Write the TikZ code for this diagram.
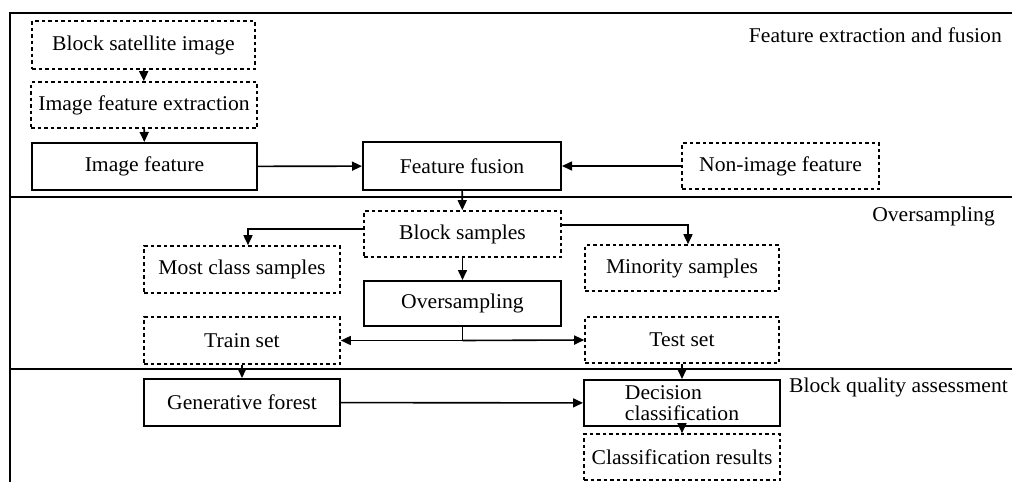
\documentclass[tikz,border=0pt]{standalone}
\usepackage{fontspec}
\setmainfont{Liberation Serif}[FakeStretch=1.03]
\usetikzlibrary{arrows.meta}
\begin{document}
\begin{tikzpicture}[x=1pt,y=-1pt,
  base/.style={rectangle, inner sep=0pt, font=\fontsize{21}{21}\selectfont, align=center},
  dbox/.style={base, draw, line width=1.6pt, dash pattern=on 3.5pt off 3pt},
  sbox/.style={base, draw, line width=2pt},
  arr/.style={line width=1.6pt, -{Triangle[length=10pt,width=9pt]}},
  ln/.style={line width=1.6pt},
  frame/.style={line width=1.8pt},
  lbl/.style={inner sep=0pt, font=\fontsize{21}{21}\selectfont, anchor=east}]
\useasboundingbox (0,0) rectangle (1012,482);
% frame
\draw[frame] (1012,13) -- (10,13) -- (10,482);
\draw[frame] (10,197) -- (1012,197);
\draw[frame] (10,369) -- (1012,369);
% section labels
\node[lbl] (l1) at (1002,35) {Feature extraction and fusion};
\node[lbl] (l2) at (995,216) {Oversampling};
\node[lbl] (l3) at (1008,387) {Block quality assessment};
% nodes
\node[dbox, minimum width=223pt, minimum height=48pt] (sat) at (143.5,45) {Block satellite image};
\node[dbox, minimum width=226pt, minimum height=46pt] (ext) at (144,105) {Image feature extraction};
\node[sbox, minimum width=225pt, minimum height=47pt] (imf) at (144.5,166.5) {Image feature};
\node[sbox, minimum width=198pt, minimum height=48pt] (fus) at (462,166) {Feature fusion};
\node[dbox, minimum width=197pt, minimum height=46pt] (non) at (780.5,166) {Non-image feature};
\node[dbox, minimum width=197pt, minimum height=46pt] (blk) at (462.5,234) {Block samples};
\node[dbox, minimum width=196pt, minimum height=47pt] (most) at (242,269.5) {Most class samples};
\node[dbox, minimum width=194pt, minimum height=46pt] (mino) at (682,268) {Minority samples};
\node[sbox, minimum width=197pt, minimum height=45pt] (ovs) at (462.5,303.5) {Oversampling};
\node[dbox, minimum width=196pt, minimum height=47pt] (train) at (242,340.5) {Train set};
\node[dbox, minimum width=194pt, minimum height=46pt] (test) at (682,340) {Test set};
\node[sbox, minimum width=196pt, minimum height=47pt] (gen) at (242,402.5) {Generative forest};
\node[sbox, minimum width=196pt, minimum height=46pt, align=left] (dec) at (682,403) {Decision\\classification};
\node[dbox, minimum width=196pt, minimum height=46pt] (res) at (682,457) {Classification results};
% connectors
\draw[arr] (sat) -- (ext);
\draw[arr] (ext) -- (imf);
\draw[arr] (imf) -- (fus);
\draw[arr] (non) -- (fus);
\draw[arr] (fus) -- (blk);
\draw[arr] ([yshift=5pt]blk.west) -| ([xshift=6pt]most.north);
\draw[arr] ([yshift=9pt]blk.east) -| ([xshift=6pt]mino.north);
\draw[arr] (blk) -- (ovs);
\coordinate (split) at (ovs.south |- train.east);
\draw[ln] (ovs.south) -- (split);
\draw[arr] (split) -- (train.east);
\draw[arr] (split) -- (test.west);
\draw[arr] (train) -- (gen);
\draw[arr] (test) -- (dec);
\draw[arr] (gen) -- (dec);
\draw[arr] (dec) -- (res);
\end{tikzpicture}
\end{document}
